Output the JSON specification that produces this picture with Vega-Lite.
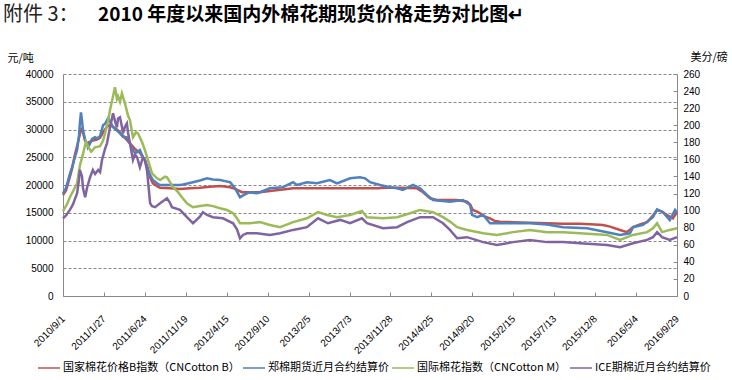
{
"$schema": "https://vega.github.io/schema/vega-lite/v6.json",
"autosize": "none",
"width": 614, "height": 222,
"padding": {"left": 63, "top": 74, "right": 55, "bottom": 84},
"background": "white",
"config": {"view": {"stroke": null}},
"title": {"text": "附件 3：", "subtitle": "\u200b\u3000\u3000\u3000\u3000\u30002010 年度以来国内外棉花期现货价格走势对比图↵", "anchor": "start", "frame": "group", "dx": -60, "offset": 26, "font": "Noto Sans CJK SC", "fontSize": 20, "fontWeight": "normal", "color": "#222", "subtitleFont": "Noto Sans CJK SC", "subtitleFontSize": 19, "subtitleFontWeight": "bold", "subtitleColor": "#000", "subtitlePadding": -19},
"datasets": {
"yuan": [
{"d":"2010-09-01","s":"国家棉花价格B指数（CNCotton B）","v":18200},
{"d":"2010-09-12","s":"国家棉花价格B指数（CNCotton B）","v":19000},
{"d":"2010-09-26","s":"国家棉花价格B指数（CNCotton B）","v":21500},
{"d":"2010-10-04","s":"国家棉花价格B指数（CNCotton B）","v":23000},
{"d":"2010-10-14","s":"国家棉花价格B指数（CNCotton B）","v":25500},
{"d":"2010-10-22","s":"国家棉花价格B指数（CNCotton B）","v":27000},
{"d":"2010-10-29","s":"国家棉花价格B指数（CNCotton B）","v":28500},
{"d":"2010-11-05","s":"国家棉花价格B指数（CNCotton B）","v":30000},
{"d":"2010-11-09","s":"国家棉花价格B指数（CNCotton B）","v":30200},
{"d":"2010-11-12","s":"国家棉花价格B指数（CNCotton B）","v":29500},
{"d":"2010-11-20","s":"国家棉花价格B指数（CNCotton B）","v":28000},
{"d":"2010-11-27","s":"国家棉花价格B指数（CNCotton B）","v":27500},
{"d":"2010-12-08","s":"国家棉花价格B指数（CNCotton B）","v":27800},
{"d":"2010-12-18","s":"国家棉花价格B指数（CNCotton B）","v":28000},
{"d":"2011-01-02","s":"国家棉花价格B指数（CNCotton B）","v":28200},
{"d":"2011-01-13","s":"国家棉花价格B指数（CNCotton B）","v":28500},
{"d":"2011-01-24","s":"国家棉花价格B指数（CNCotton B）","v":29500},
{"d":"2011-02-07","s":"国家棉花价格B指数（CNCotton B）","v":30500},
{"d":"2011-02-18","s":"国家棉花价格B指数（CNCotton B）","v":30800},
{"d":"2011-03-01","s":"国家棉花价格B指数（CNCotton B）","v":30500},
{"d":"2011-03-15","s":"国家棉花价格B指数（CNCotton B）","v":30000},
{"d":"2011-03-26","s":"国家棉花价格B指数（CNCotton B）","v":29500},
{"d":"2011-04-13","s":"国家棉花价格B指数（CNCotton B）","v":28500},
{"d":"2011-05-01","s":"国家棉花价格B指数（CNCotton B）","v":27500},
{"d":"2011-05-19","s":"国家棉花价格B指数（CNCotton B）","v":26500},
{"d":"2011-06-06","s":"国家棉花价格B指数（CNCotton B）","v":25800},
{"d":"2011-06-24","s":"国家棉花价格B指数（CNCotton B）","v":24500},
{"d":"2011-07-05","s":"国家棉花价格B指数（CNCotton B）","v":23000},
{"d":"2011-07-13","s":"国家棉花价格B指数（CNCotton B）","v":21400},
{"d":"2011-07-23","s":"国家棉花价格B指数（CNCotton B）","v":20300},
{"d":"2011-08-07","s":"国家棉花价格B指数（CNCotton B）","v":19800},
{"d":"2011-08-18","s":"国家棉花价格B指数（CNCotton B）","v":19500},
{"d":"2011-09-23","s":"国家棉花价格B指数（CNCotton B）","v":19400},
{"d":"2011-10-29","s":"国家棉花价格B指数（CNCotton B）","v":19300},
{"d":"2011-12-04","s":"国家棉花价格B指数（CNCotton B）","v":19400},
{"d":"2012-01-09","s":"国家棉花价格B指数（CNCotton B）","v":19500},
{"d":"2012-02-14","s":"国家棉花价格B指数（CNCotton B）","v":19700},
{"d":"2012-03-22","s":"国家棉花价格B指数（CNCotton B）","v":19800},
{"d":"2012-04-27","s":"国家棉花价格B指数（CNCotton B）","v":19600},
{"d":"2012-05-15","s":"国家棉花价格B指数（CNCotton B）","v":19300},
{"d":"2012-06-09","s":"国家棉花价格B指数（CNCotton B）","v":18700},
{"d":"2012-07-08","s":"国家棉花价格B指数（CNCotton B）","v":18700},
{"d":"2012-08-13","s":"国家棉花价格B指数（CNCotton B）","v":18700},
{"d":"2012-09-18","s":"国家棉花价格B指数（CNCotton B）","v":18900},
{"d":"2012-11-04","s":"国家棉花价格B指数（CNCotton B）","v":19200},
{"d":"2012-12-11","s":"国家棉花价格B指数（CNCotton B）","v":19400},
{"d":"2013-04-23","s":"国家棉花价格B指数（CNCotton B）","v":19400},
{"d":"2013-10-14","s":"国家棉花价格B指数（CNCotton B）","v":19400},
{"d":"2013-11-08","s":"国家棉花价格B指数（CNCotton B）","v":19500},
{"d":"2014-01-01","s":"国家棉花价格B指数（CNCotton B）","v":19500},
{"d":"2014-03-04","s":"国家棉花价格B指数（CNCotton B）","v":19400},
{"d":"2014-03-26","s":"国家棉花价格B指数（CNCotton B）","v":18700},
{"d":"2014-04-20","s":"国家棉花价格B指数（CNCotton B）","v":17600},
{"d":"2014-05-15","s":"国家棉花价格B指数（CNCotton B）","v":17300},
{"d":"2014-07-27","s":"国家棉花价格B指数（CNCotton B）","v":17300},
{"d":"2014-09-01","s":"国家棉花价格B指数（CNCotton B）","v":17000},
{"d":"2014-09-12","s":"国家棉花价格B指数（CNCotton B）","v":16500},
{"d":"2014-09-22","s":"国家棉花价格B指数（CNCotton B）","v":15500},
{"d":"2014-10-07","s":"国家棉花价格B指数（CNCotton B）","v":15200},
{"d":"2014-10-18","s":"国家棉花价格B指数（CNCotton B）","v":14900},
{"d":"2014-11-05","s":"国家棉花价格B指数（CNCotton B）","v":14300},
{"d":"2014-11-23","s":"国家棉花价格B指数（CNCotton B）","v":14000},
{"d":"2014-12-11","s":"国家棉花价格B指数（CNCotton B）","v":13500},
{"d":"2014-12-29","s":"国家棉花价格B指数（CNCotton B）","v":13400},
{"d":"2015-02-14","s":"国家棉花价格B指数（CNCotton B）","v":13300},
{"d":"2015-04-16","s":"国家棉花价格B指数（CNCotton B）","v":13200},
{"d":"2015-06-17","s":"国家棉花价格B指数（CNCotton B）","v":13100},
{"d":"2015-08-14","s":"国家棉花价格B指数（CNCotton B）","v":13000},
{"d":"2015-10-14","s":"国家棉花价格B指数（CNCotton B）","v":13000},
{"d":"2015-12-08","s":"国家棉花价格B指数（CNCotton B）","v":12900},
{"d":"2016-01-05","s":"国家棉花价格B指数（CNCotton B）","v":12800},
{"d":"2016-01-31","s":"国家棉花价格B指数（CNCotton B）","v":12500},
{"d":"2016-03-07","s":"国家棉花价格B指数（CNCotton B）","v":11900},
{"d":"2016-04-01","s":"国家棉花价格B指数（CNCotton B）","v":11500},
{"d":"2016-04-23","s":"国家棉花价格B指数（CNCotton B）","v":12400},
{"d":"2016-05-18","s":"国家棉花价格B指数（CNCotton B）","v":12900},
{"d":"2016-06-13","s":"国家棉花价格B指数（CNCotton B）","v":13300},
{"d":"2016-07-04","s":"国家棉花价格B指数（CNCotton B）","v":14500},
{"d":"2016-07-19","s":"国家棉花价格B指数（CNCotton B）","v":15500},
{"d":"2016-08-06","s":"国家棉花价格B指数（CNCotton B）","v":15200},
{"d":"2016-08-24","s":"国家棉花价格B指数（CNCotton B）","v":14600},
{"d":"2016-09-14","s":"国家棉花价格B指数（CNCotton B）","v":14000},
{"d":"2016-09-29","s":"国家棉花价格B指数（CNCotton B）","v":15100},
{"d":"2010-09-01","s":"郑棉期货近月合约结算价","v":18500},
{"d":"2010-09-12","s":"郑棉期货近月合约结算价","v":19500},
{"d":"2010-09-26","s":"郑棉期货近月合约结算价","v":22000},
{"d":"2010-10-04","s":"郑棉期货近月合约结算价","v":23200},
{"d":"2010-10-14","s":"郑棉期货近月合约结算价","v":25000},
{"d":"2010-10-22","s":"郑棉期货近月合约结算价","v":26300},
{"d":"2010-10-29","s":"郑棉期货近月合约结算价","v":29000},
{"d":"2010-11-01","s":"郑棉期货近月合约结算价","v":31100},
{"d":"2010-11-05","s":"郑棉期货近月合约结算价","v":33100},
{"d":"2010-11-09","s":"郑棉期货近月合约结算价","v":31500},
{"d":"2010-11-12","s":"郑棉期货近月合约结算价","v":30000},
{"d":"2010-11-20","s":"郑棉期货近月合约结算价","v":28100},
{"d":"2010-11-27","s":"郑棉期货近月合约结算价","v":27500},
{"d":"2010-11-30","s":"郑棉期货近月合约结算价","v":26800},
{"d":"2010-12-08","s":"郑棉期货近月合约结算价","v":27500},
{"d":"2010-12-15","s":"郑棉期货近月合约结算价","v":28300},
{"d":"2010-12-26","s":"郑棉期货近月合约结算价","v":28600},
{"d":"2011-01-02","s":"郑棉期货近月合约结算价","v":28400},
{"d":"2011-01-13","s":"郑棉期货近月合约结算价","v":28800},
{"d":"2011-01-24","s":"郑棉期货近月合约结算价","v":30800},
{"d":"2011-01-31","s":"郑棉期货近月合约结算价","v":31000},
{"d":"2011-02-11","s":"郑棉期货近月合约结算价","v":32000},
{"d":"2011-02-18","s":"郑棉期货近月合约结算价","v":31500},
{"d":"2011-03-01","s":"郑棉期货近月合约结算价","v":30400},
{"d":"2011-03-15","s":"郑棉期货近月合约结算价","v":29800},
{"d":"2011-03-26","s":"郑棉期货近月合约结算价","v":29300},
{"d":"2011-04-06","s":"郑棉期货近月合约结算价","v":28700},
{"d":"2011-04-20","s":"郑棉期货近月合约结算价","v":28600},
{"d":"2011-05-01","s":"郑棉期货近月合约结算价","v":27500},
{"d":"2011-05-08","s":"郑棉期货近月合约结算价","v":26600},
{"d":"2011-05-19","s":"郑棉期货近月合约结算价","v":25800},
{"d":"2011-05-27","s":"郑棉期货近月合约结算价","v":25900},
{"d":"2011-06-06","s":"郑棉期货近月合约结算价","v":26300},
{"d":"2011-06-17","s":"郑棉期货近月合约结算价","v":25000},
{"d":"2011-06-24","s":"郑棉期货近月合约结算价","v":24500},
{"d":"2011-07-05","s":"郑棉期货近月合约结算价","v":22700},
{"d":"2011-07-13","s":"郑棉期货近月合约结算价","v":21800},
{"d":"2011-07-23","s":"郑棉期货近月合约结算价","v":20900},
{"d":"2011-08-07","s":"郑棉期货近月合约结算价","v":20300},
{"d":"2011-08-18","s":"郑棉期货近月合约结算价","v":20000},
{"d":"2011-09-23","s":"郑棉期货近月合约结算价","v":20000},
{"d":"2011-10-29","s":"郑棉期货近月合约结算价","v":20000},
{"d":"2011-11-09","s":"郑棉期货近月合约结算价","v":20100},
{"d":"2011-12-15","s":"郑棉期货近月合约结算价","v":20500},
{"d":"2012-01-09","s":"郑棉期货近月合约结算价","v":20800},
{"d":"2012-02-04","s":"郑棉期货近月合约结算价","v":21200},
{"d":"2012-02-25","s":"郑棉期货近月合约结算价","v":21000},
{"d":"2012-03-22","s":"郑棉期货近月合约结算价","v":20900},
{"d":"2012-04-09","s":"郑棉期货近月合约结算价","v":20700},
{"d":"2012-04-27","s":"郑棉期货近月合约结算价","v":20500},
{"d":"2012-05-15","s":"郑棉期货近月合约结算价","v":19400},
{"d":"2012-06-02","s":"郑棉期货近月合约结算价","v":17800},
{"d":"2012-06-20","s":"郑棉期货近月合约结算价","v":18300},
{"d":"2012-07-08","s":"郑棉期货近月合约结算价","v":18700},
{"d":"2012-08-02","s":"郑棉期货近月合约结算价","v":18500},
{"d":"2012-08-13","s":"郑棉期货近月合约结算价","v":18700},
{"d":"2012-09-18","s":"郑棉期货近月合约结算价","v":19400},
{"d":"2012-11-04","s":"郑棉期货近月合约结算价","v":19600},
{"d":"2012-12-11","s":"郑棉期货近月合约结算价","v":20500},
{"d":"2012-12-25","s":"郑棉期货近月合约结算价","v":20000},
{"d":"2013-01-30","s":"郑棉期货近月合约结算价","v":20500},
{"d":"2013-03-07","s":"郑棉期货近月合约结算价","v":20300},
{"d":"2013-04-23","s":"郑棉期货近月合约结算价","v":20900},
{"d":"2013-05-19","s":"郑棉期货近月合约结算价","v":20300},
{"d":"2013-07-05","s":"郑棉期货近月合约结算价","v":21200},
{"d":"2013-08-10","s":"郑棉期货近月合约结算价","v":21400},
{"d":"2013-08-28","s":"郑棉期货近月合约结算价","v":21200},
{"d":"2013-09-15","s":"郑棉期货近月合约结算价","v":20500},
{"d":"2013-10-21","s":"郑棉期货近月合约结算价","v":20000},
{"d":"2013-11-26","s":"郑棉期货近月合约结算价","v":19600},
{"d":"2013-12-22","s":"郑棉期货近月合约结算价","v":19400},
{"d":"2014-01-12","s":"郑棉期货近月合约结算价","v":19100},
{"d":"2014-02-17","s":"郑棉期货近月合约结算价","v":20000},
{"d":"2014-03-15","s":"郑棉期货近月合约结算价","v":19400},
{"d":"2014-04-09","s":"郑棉期货近月合约结算价","v":18200},
{"d":"2014-05-01","s":"郑棉期货近月合约结算价","v":17300},
{"d":"2014-07-01","s":"郑棉期货近月合约结算价","v":17000},
{"d":"2014-08-17","s":"郑棉期货近月合约结算价","v":17300},
{"d":"2014-09-12","s":"郑棉期货近月合约结算价","v":16400},
{"d":"2014-09-19","s":"郑棉期货近月合约结算价","v":14600},
{"d":"2014-10-07","s":"郑棉期货近月合约结算价","v":14200},
{"d":"2014-10-29","s":"郑棉期货近月合约结算价","v":14600},
{"d":"2014-11-23","s":"郑棉期货近月合约结算价","v":13100},
{"d":"2014-12-29","s":"郑棉期货近月合约结算价","v":13100},
{"d":"2015-02-14","s":"郑棉期货近月合约结算价","v":13100},
{"d":"2015-04-16","s":"郑棉期货近月合约结算价","v":13100},
{"d":"2015-06-17","s":"郑棉期货近月合约结算价","v":12900},
{"d":"2015-08-14","s":"郑棉期货近月合约结算价","v":12400},
{"d":"2015-11-09","s":"郑棉期货近月合约结算价","v":12200},
{"d":"2016-01-20","s":"郑棉期货近月合约结算价","v":11500},
{"d":"2016-03-07","s":"郑棉期货近月合约结算价","v":11000},
{"d":"2016-04-12","s":"郑棉期货近月合约结算价","v":11300},
{"d":"2016-04-23","s":"郑棉期货近月合约结算价","v":12400},
{"d":"2016-05-29","s":"郑棉期货近月合约结算价","v":12800},
{"d":"2016-07-04","s":"郑棉期货近月合约结算价","v":14200},
{"d":"2016-07-19","s":"郑棉期货近月合约结算价","v":15600},
{"d":"2016-08-09","s":"郑棉期货近月合约结算价","v":15100},
{"d":"2016-09-03","s":"郑棉期货近月合约结算价","v":13700},
{"d":"2016-09-22","s":"郑棉期货近月合约结算价","v":15500},
{"d":"2016-09-29","s":"郑棉期货近月合约结算价","v":15000}
],
"cents": [
{"d":"2010-09-01","s":"国际棉花指数（CNCotton M）","v":99.5},
{"d":"2010-09-15","s":"国际棉花指数（CNCotton M）","v":107.3},
{"d":"2010-09-26","s":"国际棉花指数（CNCotton M）","v":115.7},
{"d":"2010-10-14","s":"国际棉花指数（CNCotton M）","v":126.8},
{"d":"2010-10-22","s":"国际棉花指数（CNCotton M）","v":132},
{"d":"2010-11-01","s":"国际棉花指数（CNCotton M）","v":152.8},
{"d":"2010-11-12","s":"国际棉花指数（CNCotton M）","v":165.8},
{"d":"2010-11-23","s":"国际棉花指数（CNCotton M）","v":180.7},
{"d":"2010-11-30","s":"国际棉花指数（CNCotton M）","v":175.5},
{"d":"2010-12-12","s":"国际棉花指数（CNCotton M）","v":169},
{"d":"2010-12-26","s":"国际棉花指数（CNCotton M）","v":174.2},
{"d":"2011-01-13","s":"国际棉花指数（CNCotton M）","v":175.5},
{"d":"2011-01-24","s":"国际棉花指数（CNCotton M）","v":182},
{"d":"2011-01-31","s":"国际棉花指数（CNCotton M）","v":190.5},
{"d":"2011-02-11","s":"国际棉花指数（CNCotton M）","v":204.8},
{"d":"2011-02-18","s":"国际棉花指数（CNCotton M）","v":217.8},
{"d":"2011-03-01","s":"国际棉花指数（CNCotton M）","v":234},
{"d":"2011-03-08","s":"国际棉花指数（CNCotton M）","v":244.4},
{"d":"2011-03-15","s":"国际棉花指数（CNCotton M）","v":230.8},
{"d":"2011-03-19","s":"国际棉花指数（CNCotton M）","v":234},
{"d":"2011-03-26","s":"国际棉花指数（CNCotton M）","v":227.5},
{"d":"2011-04-02","s":"国际棉花指数（CNCotton M）","v":237.3},
{"d":"2011-04-13","s":"国际棉花指数（CNCotton M）","v":225.6},
{"d":"2011-04-24","s":"国际棉花指数（CNCotton M）","v":211.3},
{"d":"2011-05-01","s":"国际棉花指数（CNCotton M）","v":206},
{"d":"2011-05-12","s":"国际棉花指数（CNCotton M）","v":185.9},
{"d":"2011-05-23","s":"国际棉花指数（CNCotton M）","v":191.8},
{"d":"2011-05-30","s":"国际棉花指数（CNCotton M）","v":190.5},
{"d":"2011-06-14","s":"国际棉花指数（CNCotton M）","v":180},
{"d":"2011-06-24","s":"国际棉花指数（CNCotton M）","v":171},
{"d":"2011-07-05","s":"国际棉花指数（CNCotton M）","v":159.3},
{"d":"2011-07-20","s":"国际棉花指数（CNCotton M）","v":143.7},
{"d":"2011-08-07","s":"国际棉花指数（CNCotton M）","v":137.8},
{"d":"2011-08-18","s":"国际棉花指数（CNCotton M）","v":135.9},
{"d":"2011-09-05","s":"国际棉花指数（CNCotton M）","v":139.8},
{"d":"2011-09-12","s":"国际棉花指数（CNCotton M）","v":139.1},
{"d":"2011-09-23","s":"国际棉花指数（CNCotton M）","v":133.3},
{"d":"2011-10-04","s":"国际棉花指数（CNCotton M）","v":127.4},
{"d":"2011-10-22","s":"国际棉花指数（CNCotton M）","v":121.6},
{"d":"2011-11-05","s":"国际棉花指数（CNCotton M）","v":115.7},
{"d":"2011-11-23","s":"国际棉花指数（CNCotton M）","v":108.6},
{"d":"2011-12-15","s":"国际棉花指数（CNCotton M）","v":104},
{"d":"2012-01-09","s":"国际棉花指数（CNCotton M）","v":105.3},
{"d":"2012-02-04","s":"国际棉花指数（CNCotton M）","v":106.6},
{"d":"2012-02-25","s":"国际棉花指数（CNCotton M）","v":105.3},
{"d":"2012-03-22","s":"国际棉花指数（CNCotton M）","v":102.7},
{"d":"2012-04-16","s":"国际棉花指数（CNCotton M）","v":100.8},
{"d":"2012-05-08","s":"国际棉花指数（CNCotton M）","v":96.9},
{"d":"2012-05-22","s":"国际棉花指数（CNCotton M）","v":91},
{"d":"2012-06-02","s":"国际棉花指数（CNCotton M）","v":85.2},
{"d":"2012-07-08","s":"国际棉花指数（CNCotton M）","v":85.2},
{"d":"2012-08-13","s":"国际棉花指数（CNCotton M）","v":86.5},
{"d":"2012-09-18","s":"国际棉花指数（CNCotton M）","v":83.2},
{"d":"2012-10-25","s":"国际棉花指数（CNCotton M）","v":80.6},
{"d":"2012-12-11","s":"国际棉花指数（CNCotton M）","v":86.5},
{"d":"2013-01-30","s":"国际棉花指数（CNCotton M）","v":91},
{"d":"2013-03-11","s":"国际棉花指数（CNCotton M）","v":98.2},
{"d":"2013-04-13","s":"国际棉花指数（CNCotton M）","v":94.9},
{"d":"2013-05-19","s":"国际棉花指数（CNCotton M）","v":92.3},
{"d":"2013-07-05","s":"国际棉花指数（CNCotton M）","v":94.9},
{"d":"2013-08-17","s":"国际棉花指数（CNCotton M）","v":99.5},
{"d":"2013-09-04","s":"国际棉花指数（CNCotton M）","v":92.3},
{"d":"2013-11-01","s":"国际棉花指数（CNCotton M）","v":91},
{"d":"2013-12-22","s":"国际棉花指数（CNCotton M）","v":92.3},
{"d":"2014-02-07","s":"国际棉花指数（CNCotton M）","v":96.9},
{"d":"2014-03-15","s":"国际棉花指数（CNCotton M）","v":100.8},
{"d":"2014-05-01","s":"国际棉花指数（CNCotton M）","v":98.2},
{"d":"2014-06-06","s":"国际棉花指数（CNCotton M）","v":92.3},
{"d":"2014-07-01","s":"国际棉花指数（CNCotton M）","v":87.1},
{"d":"2014-07-27","s":"国际棉花指数（CNCotton M）","v":80.6},
{"d":"2014-09-01","s":"国际棉花指数（CNCotton M）","v":77.4},
{"d":"2014-10-29","s":"国际棉花指数（CNCotton M）","v":73.5},
{"d":"2014-12-18","s":"国际棉花指数（CNCotton M）","v":71.5},
{"d":"2015-02-14","s":"国际棉花指数（CNCotton M）","v":74.8},
{"d":"2015-04-16","s":"国际棉花指数（CNCotton M）","v":77.4},
{"d":"2015-06-17","s":"国际棉花指数（CNCotton M）","v":74.8},
{"d":"2015-08-14","s":"国际棉花指数（CNCotton M）","v":74.8},
{"d":"2015-10-14","s":"国际棉花指数（CNCotton M）","v":73.5},
{"d":"2016-01-20","s":"国际棉花指数（CNCotton M）","v":71.5},
{"d":"2016-03-07","s":"国际棉花指数（CNCotton M）","v":65.7},
{"d":"2016-04-23","s":"国际棉花指数（CNCotton M）","v":71.5},
{"d":"2016-06-13","s":"国际棉花指数（CNCotton M）","v":74.8},
{"d":"2016-07-04","s":"国际棉花指数（CNCotton M）","v":79.3},
{"d":"2016-07-19","s":"国际棉花指数（CNCotton M）","v":85.2},
{"d":"2016-08-06","s":"国际棉花指数（CNCotton M）","v":74.8},
{"d":"2016-09-03","s":"国际棉花指数（CNCotton M）","v":77.4},
{"d":"2016-09-29","s":"国际棉花指数（CNCotton M）","v":79.3},
{"d":"2010-09-01","s":"ICE期棉近月合约结算价","v":91},
{"d":"2010-09-12","s":"ICE期棉近月合约结算价","v":94.3},
{"d":"2010-09-26","s":"ICE期棉近月合约结算价","v":100.8},
{"d":"2010-10-07","s":"ICE期棉近月合约结算价","v":107.3},
{"d":"2010-10-22","s":"ICE期棉近月合约结算价","v":120.3},
{"d":"2010-10-29","s":"ICE期棉近月合约结算价","v":136.5},
{"d":"2010-11-01","s":"ICE期棉近月合约结算价","v":147.6},
{"d":"2010-11-09","s":"ICE期棉近月合约结算价","v":139.8},
{"d":"2010-11-12","s":"ICE期棉近月合约结算价","v":126.8},
{"d":"2010-11-20","s":"ICE期棉近月合约结算价","v":115.7},
{"d":"2010-11-27","s":"ICE期棉近月合约结算价","v":126.8},
{"d":"2010-12-08","s":"ICE期棉近月合约结算价","v":139.1},
{"d":"2010-12-18","s":"ICE期棉近月合约结算价","v":147.6},
{"d":"2010-12-26","s":"ICE期棉近月合约结算价","v":143},
{"d":"2011-01-06","s":"ICE期棉近月合约结算价","v":147.6},
{"d":"2011-01-13","s":"ICE期棉近月合约结算价","v":145},
{"d":"2011-01-20","s":"ICE期棉近月合约结算价","v":159.3},
{"d":"2011-01-31","s":"ICE期棉近月合约结算价","v":172.3},
{"d":"2011-02-07","s":"ICE期棉近月合约结算价","v":178.8},
{"d":"2011-02-18","s":"ICE期棉近月合约结算价","v":197.6},
{"d":"2011-03-01","s":"ICE期棉近月合约结算价","v":213.9},
{"d":"2011-03-08","s":"ICE期棉近月合约结算价","v":204.8},
{"d":"2011-03-15","s":"ICE期棉近月合约结算价","v":197.6},
{"d":"2011-03-19","s":"ICE期棉近月合约结算价","v":208},
{"d":"2011-03-26","s":"ICE期棉近月合约结算价","v":209.3},
{"d":"2011-04-02","s":"ICE期棉近月合约结算价","v":198.3},
{"d":"2011-04-06","s":"ICE期棉近月合约结算价","v":190.5},
{"d":"2011-04-13","s":"ICE期棉近月合约结算价","v":198.3},
{"d":"2011-04-20","s":"ICE期棉近月合约结算价","v":202.2},
{"d":"2011-04-24","s":"ICE期棉近月合约结算价","v":191.8},
{"d":"2011-05-01","s":"ICE期棉近月合约结算价","v":178.8},
{"d":"2011-05-12","s":"ICE期棉近月合约结算价","v":159.3},
{"d":"2011-05-19","s":"ICE期棉近月合约结算价","v":165.8},
{"d":"2011-05-27","s":"ICE期棉近月合约结算价","v":162.5},
{"d":"2011-06-06","s":"ICE期棉近月合约结算价","v":150.8},
{"d":"2011-06-17","s":"ICE期棉近月合约结算价","v":162.5},
{"d":"2011-06-24","s":"ICE期棉近月合约结算价","v":159.3},
{"d":"2011-07-02","s":"ICE期棉近月合约结算价","v":146.3},
{"d":"2011-07-05","s":"ICE期棉近月合约结算价","v":135.9},
{"d":"2011-07-13","s":"ICE期棉近月合约结算价","v":108.6},
{"d":"2011-07-20","s":"ICE期棉近月合约结算价","v":105.3},
{"d":"2011-07-31","s":"ICE期棉近月合约结算价","v":104},
{"d":"2011-08-18","s":"ICE期棉近月合约结算价","v":108.6},
{"d":"2011-09-12","s":"ICE期棉近月合约结算价","v":114.4},
{"d":"2011-09-23","s":"ICE期棉近月合约结算价","v":109.2},
{"d":"2011-09-30","s":"ICE期棉近月合约结算价","v":104},
{"d":"2011-10-29","s":"ICE期棉近月合约结算价","v":100.8},
{"d":"2011-11-23","s":"ICE期棉近月合约结算价","v":92.3},
{"d":"2011-12-15","s":"ICE期棉近月合约结算价","v":85.2},
{"d":"2012-01-09","s":"ICE期棉近月合约结算价","v":93},
{"d":"2012-01-20","s":"ICE期棉近月合约结算价","v":98.2},
{"d":"2012-02-04","s":"ICE期棉近月合约结算价","v":94.9},
{"d":"2012-02-25","s":"ICE期棉近月合约结算价","v":92.3},
{"d":"2012-04-01","s":"ICE期棉近月合约结算价","v":91},
{"d":"2012-05-08","s":"ICE期棉近月合约结算价","v":85.2},
{"d":"2012-05-22","s":"ICE期棉近月合约结算价","v":78},
{"d":"2012-06-02","s":"ICE期棉近月合约结算价","v":67.6},
{"d":"2012-06-13","s":"ICE期棉近月合约结算价","v":71.5},
{"d":"2012-06-27","s":"ICE期棉近月合约结算价","v":73.5},
{"d":"2012-08-02","s":"ICE期棉近月合约结算价","v":73.5},
{"d":"2012-09-18","s":"ICE期棉近月合约结算价","v":71.5},
{"d":"2012-10-25","s":"ICE期棉近月合约结算价","v":73.5},
{"d":"2012-12-11","s":"ICE期棉近月合约结算价","v":77.4},
{"d":"2013-01-30","s":"ICE期棉近月合约结算价","v":80.6},
{"d":"2013-03-11","s":"ICE期棉近月合约结算价","v":91},
{"d":"2013-04-16","s":"ICE期棉近月合约结算价","v":85.2},
{"d":"2013-05-30","s":"ICE期棉近月合约结算价","v":89.1},
{"d":"2013-07-05","s":"ICE期棉近月合约结算价","v":85.2},
{"d":"2013-08-17","s":"ICE期棉近月合约结算价","v":91},
{"d":"2013-09-04","s":"ICE期棉近月合约结算价","v":85.2},
{"d":"2013-11-01","s":"ICE期棉近月合约结算价","v":79.3},
{"d":"2013-12-22","s":"ICE期棉近月合约结算价","v":80.6},
{"d":"2014-01-27","s":"ICE期棉近月合约结算价","v":86.5},
{"d":"2014-03-15","s":"ICE期棉近月合约结算价","v":92.3},
{"d":"2014-05-01","s":"ICE期棉近月合约结算价","v":92.3},
{"d":"2014-06-06","s":"ICE期棉近月合约结算价","v":85.2},
{"d":"2014-07-01","s":"ICE期棉近月合约结算价","v":77.4},
{"d":"2014-07-27","s":"ICE期棉近月合约结算价","v":67.6},
{"d":"2014-09-01","s":"ICE期棉近月合约结算价","v":68.9},
{"d":"2014-10-29","s":"ICE期棉近月合约结算价","v":63.1},
{"d":"2014-12-18","s":"ICE期棉近月合约结算价","v":59.8},
{"d":"2015-02-14","s":"ICE期棉近月合约结算价","v":63.1},
{"d":"2015-04-16","s":"ICE期棉近月合约结算价","v":65.7},
{"d":"2015-06-17","s":"ICE期棉近月合约结算价","v":63.1},
{"d":"2015-08-14","s":"ICE期棉近月合约结算价","v":63.1},
{"d":"2015-10-14","s":"ICE期棉近月合约结算价","v":61.8},
{"d":"2016-01-20","s":"ICE期棉近月合约结算价","v":59.8},
{"d":"2016-03-07","s":"ICE期棉近月合约结算价","v":57.2},
{"d":"2016-04-23","s":"ICE期棉近月合约结算价","v":61.8},
{"d":"2016-06-13","s":"ICE期棉近月合约结算价","v":65.7},
{"d":"2016-07-04","s":"ICE期棉近月合约结算价","v":68.9},
{"d":"2016-07-19","s":"ICE期棉近月合约结算价","v":74.8},
{"d":"2016-08-06","s":"ICE期棉近月合约结算价","v":68.9},
{"d":"2016-09-03","s":"ICE期棉近月合约结算价","v":65.7},
{"d":"2016-09-29","s":"ICE期棉近月合约结算价","v":68.9}
]
},
"encoding": {
"x": {"field": "d", "type": "temporal", "scale": {"type": "utc", "domain": [1283299200000, 1475107200000]},
 "axis": {"values": [1283299200000,1296086400000,1308873600000,1321660800000,1334448000000,1347235200000,1360022400000,1372809600000,1385596800000,1398384000000,1411171200000,1423958400000,1436745600000,1449532800000,1462320000000,1475107200000],
 "labelExpr": "utcFormat(datum.value, '%Y/%-m/%-d')", "labelAngle": -45, "labelAlign": "right", "labelBaseline": "middle", "labelPadding": 25, "tickSize": -4, "tickColor": "#888", "domainColor": "#888", "grid": false, "title": null, "labelFont": "Liberation Sans", "labelFontSize": 10, "labelColor": "#000", "labelOverlap": false, "labelBound": false, "labelFlush": false}},
"color": {"field": "s", "type": "nominal",
 "scale": {"domain": ["国家棉花价格B指数（CNCotton B）", "郑棉期货近月合约结算价", "国际棉花指数（CNCotton M）", "ICE期棉近月合约结算价"], "range": ["#C0504D", "#4F81BD", "#9BBB59", "#8064A2"]},
 "legend": {"orient": "none", "legendX": -26, "legendY": 282, "direction": "horizontal", "title": null, "symbolType": "stroke", "symbolSize": 484, "symbolStrokeWidth": 1.5, "labelFont": "Noto Sans CJK SC", "labelFontSize": 11, "labelColor": "#000", "columnPadding": 0, "labelOffset": 2, "labelLimit": 300, "padding": 0}}
},
"layer": [
{
"data": {"name": "yuan"},
"mark": {"type": "line", "strokeWidth": 2.5},
"encoding": {
"y": {"field": "v", "type": "quantitative", "scale": {"domain": [0, 40000], "nice": false, "zero": true},
 "axis": {"values": [0,5000,10000,15000,20000,25000,30000,35000,40000], "format": "d", "title": "元/吨", "titleAngle": 0, "titleAlign": "left", "titleBaseline": "middle", "titleX": -56, "titleY": -16, "titleFont": "Noto Sans CJK SC", "titleFontSize": 11, "titleFontWeight": "normal", "titleColor": "#000", "labelFont": "Liberation Sans", "labelFontSize": 10, "labelColor": "#000", "labelPadding": 10, "ticks": false, "domainColor": "#888", "grid": true, "gridDash": [3, 2], "gridColor": "#888", "gridWidth": 1}}
}
},
{
"data": {"name": "cents"},
"mark": {"type": "line", "strokeWidth": 2.5},
"encoding": {
"y": {"field": "v", "type": "quantitative", "scale": {"domain": [0, 260], "nice": false, "zero": true},
 "axis": {"orient": "right", "values": [0,20,40,60,80,100,120,140,160,180,200,220,240,260], "title": "美分/磅", "titleAngle": 0, "titleAlign": "left", "titleBaseline": "middle", "titleX": 13, "titleY": -17, "titleFont": "Noto Sans CJK SC", "titleFontSize": 11, "titleFontWeight": "normal", "titleColor": "#000", "labelFont": "Liberation Sans", "labelFontSize": 10, "labelColor": "#000", "labelPadding": 10, "tickSize": -4, "tickColor": "#888", "domainColor": "#888", "grid": false}}
}
}
],
"resolve": {"scale": {"y": "independent"}}
}
